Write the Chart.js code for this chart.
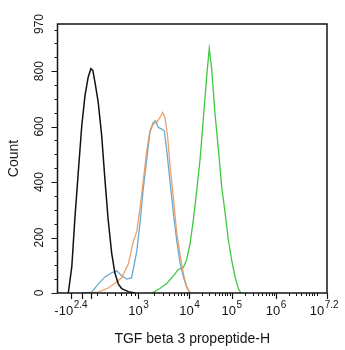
<!DOCTYPE html>
<html>
<head>
<meta charset="utf-8">
<script src="https://cdn.jsdelivr.net/npm/chart.js@4.4.1/dist/chart.umd.min.js"></script>
<style>
  html, body { margin: 0; padding: 0; background: #fff; }
  #wrap { width: 345px; height: 350px; }
</style>
</head>
<body>
<div id="wrap"><canvas id="histo"></canvas></div>
<script>
// x = position along the biexponential display axis (0 = left edge, 100 = right edge)
const blackX = [4.0, 5.3, 6.5, 7.7, 9.0, 10.2, 11.4, 12.4, 13.1, 13.9, 15.1, 16.4, 17.6, 18.8, 20.1, 21.3, 22.6, 23.8, 26.3, 28.8];
const blackY = [0, 94, 276, 434, 603, 712, 779, 809, 803, 760, 688, 567, 409, 264, 144, 72, 32, 16, 5, 0];

const blueX = [9.0, 12.7, 15.1, 17.6, 20.1, 22.0, 23.8, 25.7, 27.5, 29.4, 30.6, 31.8, 33.1, 34.3, 35.5, 36.4, 37.4, 38.7, 39.6, 40.5, 41.8, 43.0, 44.2, 45.5, 46.7, 47.9, 49.2];
const blueY = [0, 3, 32, 58, 73, 80, 62, 50, 55, 150, 252, 373, 482, 579, 615, 621, 597, 591, 585, 518, 397, 288, 191, 107, 58, 22, 0];

const orangeX = [10.8, 15.1, 18.8, 21.3, 23.8, 26.3, 28.1, 29.4, 30.6, 31.8, 33.1, 34.3, 35.5, 36.8, 38.0, 39.0, 39.9, 40.9, 41.7, 43.0, 44.2, 45.5, 46.7, 47.9, 49.2];
const orangeY = [0, 3, 18, 35, 55, 105, 185, 221, 306, 403, 512, 585, 609, 615, 633, 651, 633, 560, 464, 343, 221, 136, 70, 22, 0];

const greenX = [35.0, 38.0, 40.5, 43.0, 44.8, 46.7, 47.9, 49.2, 50.4, 51.7, 52.9, 54.1, 55.4, 56.3, 57.2, 58.4, 59.7, 60.9, 62.2, 63.4, 64.6, 65.9, 67.1, 68.0];
const greenY = [0, 16, 34, 62, 85, 92, 119, 179, 264, 373, 482, 627, 785, 882, 809, 651, 518, 385, 288, 191, 119, 58, 16, 0];

// axis ticks
const yTicks = [0, 200, 400, 600, 800, 970];
const yMinorStep = 50;
const xTickPos = [4.9, 30.0, 48.9, 64.6, 81.0, 100];
const xTickBase = ['-10', '10', '10', '10', '10', '10'];
const xTickExp = ['2.4', '3', '4', '5', '6', '7.2'];
const xTickLog = [2.4, 3, 4, 5, 6, 7.2];     // decade value at each labelled tick (log region)
const xExtraMajor = [9.0, 12.4];               // 0 and +10^2.4 marks
const xLogStart = 12.4;                        // where +10^2.4 sits

const pts = (xs, ys) => xs.map((x, i) => ({x: x, y: ys[i]}));

// minor log ticks between decade marks
let xMinor = [];
(function() {
  const anchors = [[2.4, xLogStart]];
  for (let i = 1; i < xTickLog.length; i++) anchors.push([xTickLog[i], xTickPos[i]]);
  for (let i = 0; i < anchors.length - 1; i++) {
    const [l0, p0] = anchors[i], [l1, p1] = anchors[i + 1];
    for (let d = Math.floor(l0); d < l1; d++) {
      for (let m = 2; m <= 9; m++) {
        const lv = d + Math.log10(m);
        if (lv > l0 && lv < l1) xMinor.push(p0 + (lv - l0) / (l1 - l0) * (p1 - p0));
      }
    }
  }
})();

const FONT = '"Liberation Sans", Arial, sans-serif';
const INK = '#151515';

const axesPlugin = {
  id: 'flowAxes',
  afterDraw(chart) {
    const {ctx, chartArea: a, scales: {x, y}} = chart;
    ctx.save();
    ctx.strokeStyle = INK;
    ctx.fillStyle = INK;

    // frame
    ctx.lineWidth = 1.5;
    ctx.strokeRect(a.left, a.top, a.right - a.left, a.bottom - a.top);

    // y ticks
    ctx.lineWidth = 1;
    ctx.beginPath();
    for (let v = 0; v <= y.max; v += yMinorStep) {
      const py = Math.round(y.getPixelForValue(v)) + 0.5;
      const len = v % 200 === 0 ? 6 : 3;
      ctx.moveTo(a.left, py); ctx.lineTo(a.left - len, py);
    }
    ctx.stroke();

    // x ticks
    ctx.lineWidth = 1.2;
    ctx.beginPath();
    xTickPos.concat(xExtraMajor).forEach(v => {
      const px = Math.round(x.getPixelForValue(v)) + 0.5;
      ctx.moveTo(px, a.bottom); ctx.lineTo(px, a.bottom + 6);
    });
    ctx.stroke();
    ctx.lineWidth = 1;
    ctx.beginPath();
    xMinor.forEach(v => {
      const px = Math.round(x.getPixelForValue(v)) + 0.5;
      ctx.moveTo(px, a.bottom); ctx.lineTo(px, a.bottom + 3);
    });
    ctx.stroke();

    // y tick labels (rotated)
    ctx.font = '12px ' + FONT;
    ctx.textAlign = 'center';
    ctx.textBaseline = 'middle';
    yTicks.forEach(v => {
      ctx.save();
      ctx.translate(a.left - 18, y.getPixelForValue(v));
      ctx.rotate(-Math.PI / 2);
      ctx.fillText(String(v), 0, 0);
      ctx.restore();
    });

    // x tick labels with superscript exponents
    ctx.textBaseline = 'alphabetic';
    ctx.textAlign = 'left';
    xTickPos.forEach((v, i) => {
      ctx.font = '13px ' + FONT;
      const wb = ctx.measureText(xTickBase[i]).width;
      ctx.font = '10px ' + FONT;
      const we = ctx.measureText(xTickExp[i]).width;
      let px = x.getPixelForValue(v) - (wb + we) / 2;
      if (i === xTickPos.length - 1) px -= 3;
      ctx.font = '13px ' + FONT;
      ctx.fillText(xTickBase[i], px, a.bottom + 22);
      ctx.font = '10px ' + FONT;
      ctx.fillText(xTickExp[i], px + wb + 0.5, a.bottom + 15);
    });

    // axis titles
    ctx.font = '14px ' + FONT;
    ctx.textAlign = 'center';
    ctx.fillText('TGF beta 3 propeptide-H', (a.left + a.right) / 2, a.bottom + 50);
    ctx.save();
    ctx.translate(14, (a.top + a.bottom) / 2);
    ctx.rotate(-Math.PI / 2);
    ctx.textBaseline = 'middle';
    ctx.fillText('Count', 0, 0);
    ctx.restore();

    ctx.restore();
  }
};

const line = (data, color, width) => ({
  data: data, borderColor: color, borderWidth: width, pointRadius: 0,
  tension: 0, fill: false, showLine: true
});

new Chart('histo', {
  type: 'scatter',
  data: {
    datasets: [
      line(pts(blackX, blackY), '#111111', 1.5),
      line(pts(orangeX, orangeY), 'rgba(232,150,95,0.9)', 1.3),
      line(pts(blueX, blueY), 'rgba(80,155,195,0.85)', 1.3),
      line(pts(greenX, greenY), '#3fc83f', 1.3)
    ]
  },
  options: {
    responsive: true,
    maintainAspectRatio: false,
    animation: false,
    layout: { padding: { top: 24, right: 18, left: 0, bottom: 0 } },
    plugins: { legend: { display: false }, tooltip: { enabled: false } },
    scales: {
      x: {
        type: 'linear', min: 0, max: 100,
        ticks: { display: false }, grid: { display: false }, border: { display: false },
        afterFit: s => { s.height = 57; }
      },
      y: {
        type: 'linear', min: 0, max: 970,
        ticks: { display: false }, grid: { display: false }, border: { display: false },
        afterFit: s => { s.width = 57.5; }
      }
    }
  },
  plugins: [axesPlugin]
});
</script>
</body>
</html>
